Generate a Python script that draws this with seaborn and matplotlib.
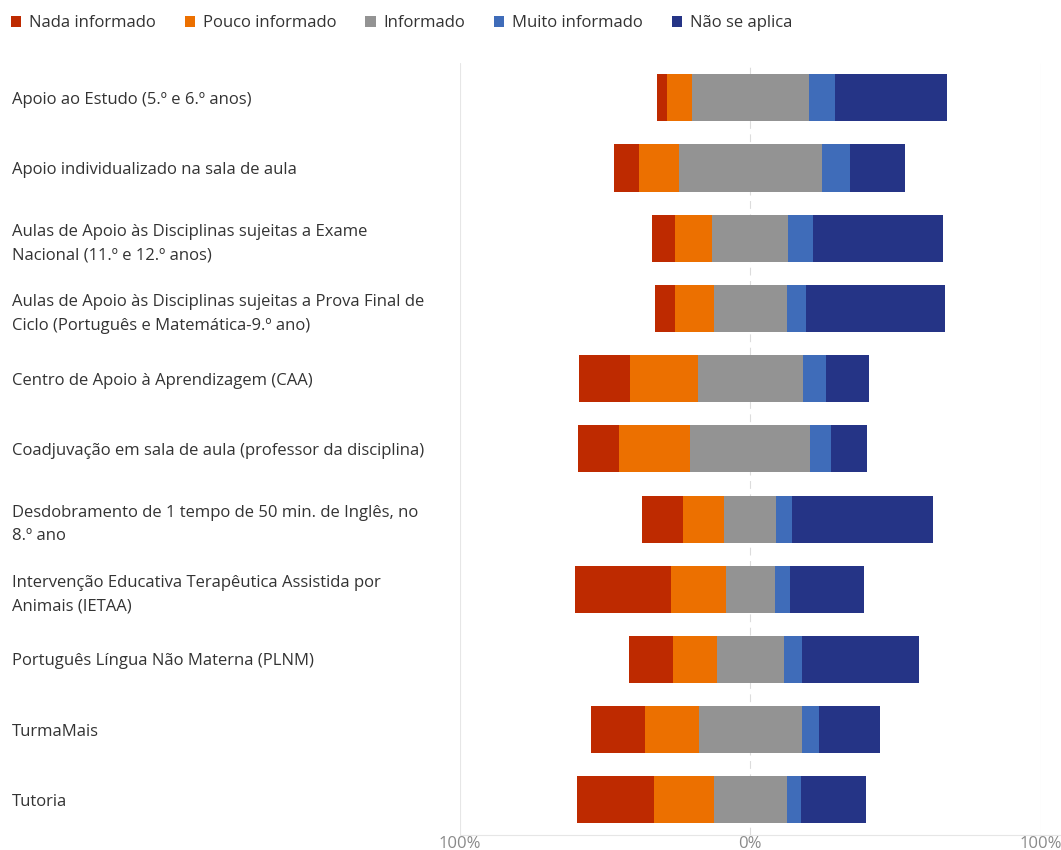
import numpy as np
import pandas as pd
import matplotlib
matplotlib.use("Agg")
import matplotlib.pyplot as plt
from matplotlib.patches import Patch
from matplotlib.lines import Line2D
import seaborn as sns

categories = [
    "Apoio ao Estudo (5.º e 6.º anos)",
    "Apoio individualizado na sala de aula",
    "Aulas de Apoio às Disciplinas sujeitas a Exame\nNacional (11.º e 12.º anos)",
    "Aulas de Apoio às Disciplinas sujeitas a Prova Final de\nCiclo (Português e Matemática-9.º ano)",
    "Centro de Apoio à Aprendizagem (CAA)",
    "Coadjuvação em sala de aula (professor da disciplina)",
    "Desdobramento de 1 tempo de 50 min. de Inglês, no\n8.º ano",
    "Intervenção Educativa Terapêutica Assistida por\nAnimais (IETAA)",
    "Português Língua Não Materna (PLNM)",
    "TurmaMais",
    "Tutoria",
]
nada = [3.4, 8.6, 7.7, 7.1, 17.5, 14.1, 14.1, 33.2, 15.0, 18.6, 26.2]
pouco = [8.7, 13.5, 13.0, 13.2, 23.3, 24.7, 14.2, 18.7, 15.1, 18.6, 20.7]
informado = [40.2, 49.3, 26.1, 25.1, 36.2, 41.2, 18.0, 16.9, 23.0, 35.3, 25.1]
muito = [8.9, 9.5, 8.6, 6.5, 8.0, 7.1, 5.5, 5.2, 6.2, 6.1, 4.9]
nao_aplica = [38.8, 19.0, 44.6, 47.8, 14.6, 12.5, 48.2, 25.6, 40.2, 21.0, 22.5]

series_names = ["Nada informado", "Pouco informado", "Informado", "Muito informado", "Não se aplica"]
colors = ["#BE2A00", "#EC7000", "#939393", "#3F6CB9", "#253486"]
tick_vals = [-100, 0, 100]
tick_labels = ["100%", "0%", "100%"]

sns.set_theme(style="white")
plt.rcParams["font.family"] = ["Open Sans", "DejaVu Sans"]

df = pd.DataFrame({
    "cat": categories, "nada": nada, "pouco": pouco, "inf": informado,
    "muito": muito, "nao": nao_aplica,
})
half = df["inf"] / 2
layers = [
    (-(df["nada"] + df["pouco"] + half), colors[0]),
    (-(df["pouco"] + half), colors[1]),
    (-half, colors[2]),
    (half + df["muito"] + df["nao"], colors[4]),
    (half + df["muito"], colors[3]),
    (half, colors[2]),
]

W, H = 1061, 850
fig = plt.figure(figsize=(W / 100, H / 100), dpi=100)
x0, x1, ytop, ybot = 459.5, 1041, 62.7, 835
ax = fig.add_axes([x0 / W, 1 - ybot / H, (x1 - x0) / W, (ybot - ytop) / H])

for vals, col in layers:
    sns.barplot(x=vals, y=df["cat"], order=categories, orient="h", color=col,
                saturation=1, width=0.67, linewidth=0, errorbar=None, ax=ax, zorder=3)

ax.set_xlim(-100, 100)
ax.set_ylim(len(categories) - 0.5, -0.5)
ax.set_xlabel("")
ax.set_ylabel("")
ax.set_xticks(tick_vals)
ax.set_xticklabels(tick_labels)
ax.tick_params(axis="x", length=0, pad=0.5, labelsize=12, labelcolor="#8a8a8a")
ax.tick_params(axis="y", length=0, pad=(x0 - 12) * 72 / 100, labelsize=12, labelcolor="#333333")
for t in ax.get_yticklabels():
    t.set_ha("left")
    t.set_multialignment("left")
    t.set_linespacing(1.6)

for s in ["left", "top", "right", "bottom"]:
    ax.spines[s].set_visible(False)

ax.axvline(-100, color="#e6e6e6", lw=0.8, zorder=0)
ax.axvline(100, color="#e6e6e6", lw=0.8, zorder=0)
ax.axvline(0, color="#dcdcdc", lw=0.8, ls=(0, (7, 5)), zorder=0)
fig.add_artist(Line2D([x0 / W, 1.0], [1 - ybot / H, 1 - ybot / H], color="#e6e6e6", lw=0.8))

handles = [Patch(facecolor=c, edgecolor="none", label=n) for n, c in zip(series_names, colors)]
fig.legend(handles=handles, loc="center left", bbox_to_anchor=(11 / W, 1 - 23 / H), ncol=5,
           frameon=False, handlelength=0.62, handleheight=0.62, handletextpad=0.45,
           columnspacing=1.75, borderaxespad=0, borderpad=0, fontsize=12,
           labelcolor="#333333")

fig.savefig("out.png", dpi=100)
